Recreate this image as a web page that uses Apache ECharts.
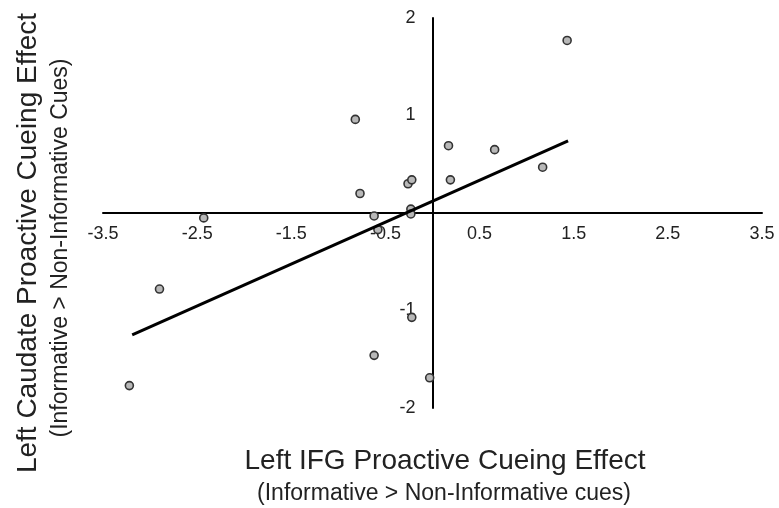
<!DOCTYPE html>
<html>
<head>
<meta charset="utf-8">
<script src="https://cdn.jsdelivr.net/npm/echarts@6/dist/echarts.min.js"></script>
<style>
html,body{margin:0;padding:0;background:#fff;}
#c{width:779px;height:508px;}
</style>
</head>
<body>
<div id="c"></div>
<script>
// Data
const pointX = [-3.22, -2.90, -2.43, -0.82, -0.77, -0.62, -0.58, -0.62, -0.26, -0.22, -0.23, -0.23, -0.22, -0.03, 0.17, 0.19, 0.66, 1.17, 1.43];
const pointY = [-1.77, -0.78, -0.05, 0.96, 0.20, -0.03, -0.17, -1.46, 0.30, 0.34, 0.04, -0.01, -1.07, -1.69, 0.69, 0.34, 0.65, 0.47, 1.77];
const trendX = [-3.19, 1.44];
const trendY = [-1.25, 0.74];
const xTickLabels = [-3.5, -2.5, -1.5, -0.5, 0.5, 1.5, 2.5, 3.5];
const yTickLabels = [-2, -1, 1, 2];
const xTitle = 'Left IFG Proactive Cueing Effect';
const xSubtitle = '(Informative > Non-Informative cues)';
const yTitle = 'Left Caudate Proactive Cueing Effect';
const ySubtitle = '(Informative > Non-Informative Cues)';

const FONT = '"Liberation Sans", Arial, sans-serif';
const W = 779, H = 508;
const G = {left: 103, right: 17, top: 18, bottom: 100};
const X_MIN = -3.5, X_MAX = 3.5, Y_MIN = -2, Y_MAX = 2;
// place the axes on the zero lines (as in the reference)
const plotW = W - G.left - G.right, plotH = H - G.top - G.bottom;
const xAxisOffset = -plotH * (0 - Y_MIN) / (Y_MAX - Y_MIN);
const yAxisOffset = -plotW * (0 - X_MIN) / (X_MAX - X_MIN);

const chart = echarts.init(document.getElementById('c'), null, {renderer: 'canvas'});

const scatterData = pointX.map((x, i) => [x, pointY[i]]);
const trendData = trendX.map((x, i) => [x, trendY[i]]);

chart.setOption({
  animation: false,
  backgroundColor: '#fff',
  grid: Object.assign({containLabel: false}, G),
  xAxis: {
    type: 'value', min: X_MIN, max: X_MAX, position: 'bottom', offset: xAxisOffset,
    axisLine: {show: true, onZero: false, lineStyle: {color: '#000', width: 2}},
    axisTick: {show: false},
    splitLine: {show: false},
    axisLabel: {
      customValues: xTickLabels, margin: 12,
      fontSize: 18, fontFamily: FONT, color: '#222',
      formatter: v => String(v)
    }
  },
  yAxis: {
    type: 'value', min: Y_MIN, max: Y_MAX, position: 'left', offset: yAxisOffset,
    axisLine: {show: true, onZero: false, lineStyle: {color: '#000', width: 2}},
    axisTick: {show: false},
    splitLine: {show: false},
    axisLabel: {
      customValues: yTickLabels, margin: 17,
      fontSize: 18, fontFamily: FONT, color: '#222'
    }
  },
  series: [
    {
      type: 'scatter', data: scatterData, symbol: 'circle', symbolSize: 8,
      itemStyle: {color: '#b8b8b8', borderColor: '#333', borderWidth: 1.6, opacity: 1},
      z: 3
    },
    {
      type: 'line', data: trendData, symbol: 'none',
      lineStyle: {color: '#000', width: 3}, z: 4
    }
  ],
  graphic: [
    {type: 'text', x: 445, y: 461, style: {text: xTitle, font: '28px ' + FONT, fill: '#222', textAlign: 'center', textVerticalAlign: 'middle'}},
    {type: 'text', x: 444, y: 494, style: {text: xSubtitle, font: '23px ' + FONT, fill: '#222', textAlign: 'center', textVerticalAlign: 'middle'}},
    {type: 'text', x: 28, y: 243, rotation: Math.PI / 2, style: {text: yTitle, font: '28px ' + FONT, fill: '#222', textAlign: 'center', textVerticalAlign: 'middle'}},
    {type: 'text', x: 61, y: 248, rotation: Math.PI / 2, style: {text: ySubtitle, font: '23px ' + FONT, fill: '#222', textAlign: 'center', textVerticalAlign: 'middle'}}
  ]
});
</script>
</body>
</html>
